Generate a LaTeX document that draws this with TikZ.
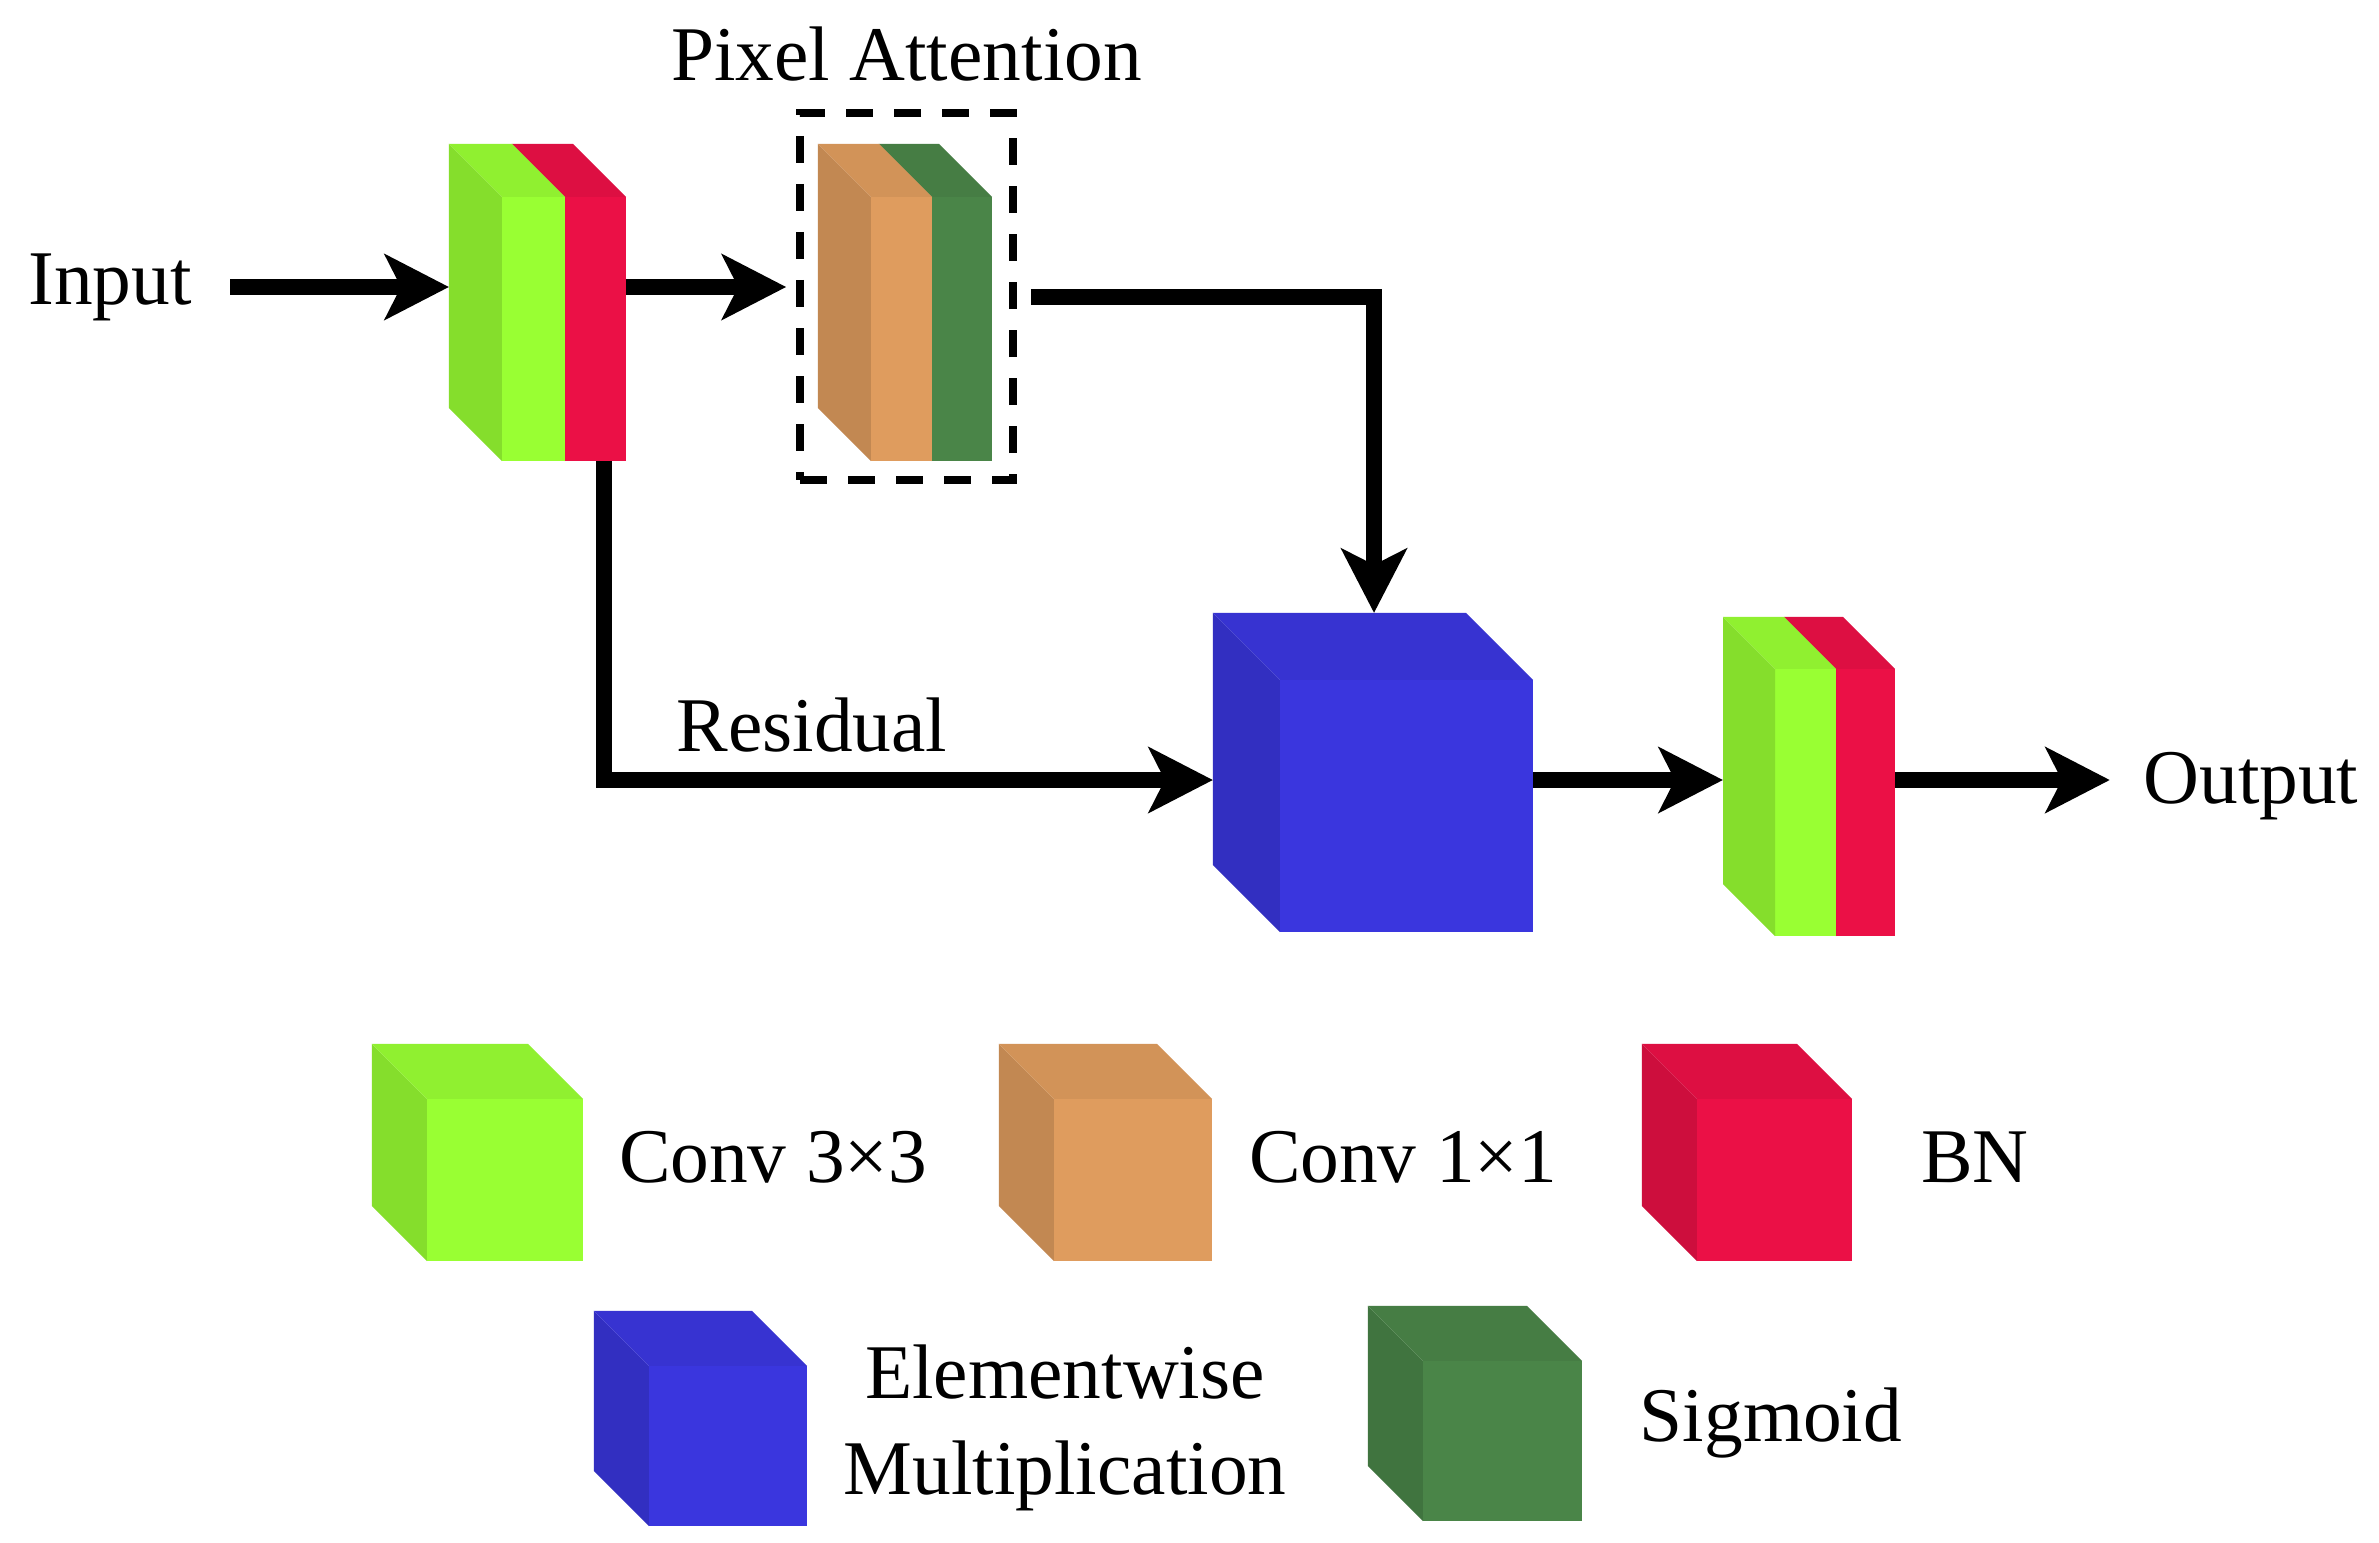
\documentclass[tikz,border=0pt]{standalone}
\usepackage{fontspec}
\setmainfont{Liberation Serif}
\usetikzlibrary{positioning}
\usetikzlibrary{arrows.meta}
\definecolor{convthree}{HTML}{99FF33}
\definecolor{convone}{HTML}{DF9C5E}
\definecolor{bnred}{HTML}{EB1046}
\definecolor{mulblue}{HTML}{3A36DE}
\definecolor{siggreen}{HTML}{4A8548}

\begin{document}
\begin{tikzpicture}[x=0.01cm,y=-0.01cm]
  \tikzstyle{face}=[rectangle,inner sep=0pt,outer sep=0pt,draw=none]
  \tikzstyle{lbl}=[inner sep=0pt,font=\fontsize{22}{27.5}\selectfont]
  \tikzstyle{arr}=[-{Stealth[length=6.4mm,width=6.5mm,inset=1.6mm]},line width=1.6mm]
  \fill[white] (0,0) rectangle (2379,1542);
  % blocks: back face, front face, then side and top
  \foreach \name/\x/\y/\w/\h/\d/\col in {blk1r/595.5/329/61/264/53/bnred, blk1g/533.5/329/63/264/53/convthree,
      pa2/962/329/60/264/53/siggreen, pa1/901.5/329/61/264/53/convone,
      mul/1406.5/806/253/252/67/mulblue,
      out2/1865.5/802.5/59/267/52/bnred, out1/1805.5/802.5/61/267/52/convthree,
      lg-conv3/505/1180/156/162/55/convthree, lg-conv1/1133/1180/158/162/55/convone,
      lg-bn/1774.5/1180/155/162/55/bnred, lg-mul/728/1446/158/160/55/mulblue,
      lg-sig/1502.5/1441/159/160/55/siggreen}
  {
    \node[face,minimum width=\w*0.1mm,minimum height=\h*0.1mm] (\name-b) at (\x-\d,\y-\d) {};
    \node[face,fill=\col,minimum width=\w*0.1mm,minimum height=\h*0.1mm] (\name) at (\x,\y) {};
    \fill[\col!87!black] (\name.north west) -- (\name.south west) -- (\name-b.south west) -- (\name-b.north west) -- cycle;
    \fill[\col!94!black] (\name.north west) -- (\name.north east) -- (\name-b.north east) -- (\name-b.north west) -- cycle;
  }
  \node[draw,line width=0.75mm,dash pattern=on 2.7mm off 2.1mm,minimum width=21.3mm,minimum height=36.7mm] (pa) at (906.5,296.5) {};
  \node[lbl,above=2.7mm of pa] (pa-lbl) {Pixel Attention};

  \node[lbl] (input) at (110,287) {Input};
  \node[lbl] (output) at (2251,786) {Output};
  \node[lbl] (res-lbl) at (812,725) {Residual};
  \coordinate (bend) at (604,780);

  \draw[arr,shorten <=3.8mm] (input) -- (input -| blk1g-b.west);
  \draw[arr,shorten >=1mm] (blk1r.east |- input) -- (pa.west |- input);
  \draw[arr,shorten <=1.4mm] (pa.east) -| ([xshift=3.45mm]mul-b.north);
  \draw[arr] (blk1r.south -| bend) -- (bend) -- (mul-b.west |- bend);
  \draw[arr] (mul.east |- bend) -- (out1-b.west |- bend);
  \draw[arr,shorten >=3.3mm] (out2.east |- bend) -- (output.west |- bend);

  % legend
  \foreach \x/\y/\txt/\lname in {773/1157/Conv 3×3/lt-conv3, 1403/1157/Conv 1×1/lt-conv1,
      1975/1157/BN/lt-bn, 1771/1423/Sigmoid/lt-sig}
    \node[lbl] (\lname) at (\x,\y) {\txt};
  \node[lbl,align=center] (lt-mul) at (1065,1428) {Elementwise\\Multiplication};
\end{tikzpicture}
\end{document}
